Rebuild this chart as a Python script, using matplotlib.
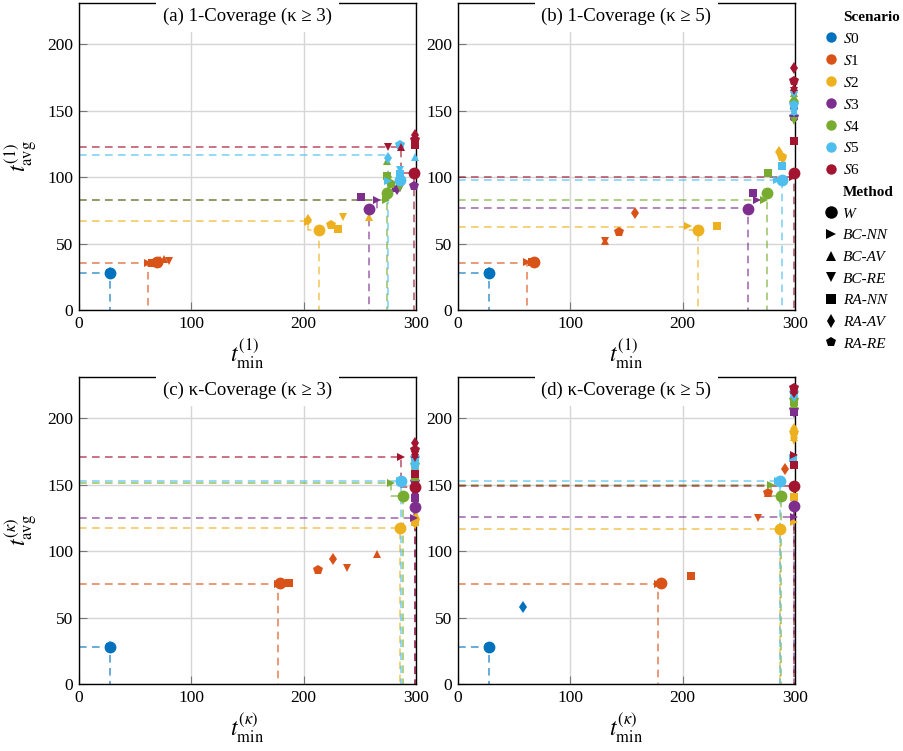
import matplotlib
matplotlib.use("Agg")
import matplotlib.pyplot as plt
from matplotlib.lines import Line2D

plt.rcParams['font.family'] = ['Liberation Serif', 'DejaVu Serif']
plt.rcParams['mathtext.fontset'] = 'stix'

scenarios = ['S0', 'S1', 'S2', 'S3', 'S4', 'S5', 'S6']
methods = ['W', 'BC-NN', 'BC-AV', 'BC-RE', 'RA-NN', 'RA-AV', 'RA-RE']
colors = ['#0072BD', '#D95319', '#EDB120', '#7E2F8E', '#77AC30', '#4DBEEE', '#A2142F']
markers = ['o', '>', '^', 'v', 's', 'd', 'p']
msizes = [8.5, 6.3, 6.3, 6.3, 5.5, 6.0, 7.2]

# t_min / t_avg per scenario (rows) and method (columns), one pair per panel
tmin_a = [[28, 28, 28, 28, 28, 28, 28],
          [69, 61, 76, 80, 65, 72, 67],
          [214, 204, 258, 235, 231, 204, 224],
          [258, 265, 280, 286, 251, 283, 298],
          [274, 273, 274, 286, 274, 275, 278],
          [286, 275, 299, 286, 286, 275, 286],
          [298, 299, 287, 275, 299, 299, 299]]
tavg_a = [[28, 28, 28, 28, 28, 28, 28],
          [36, 35, 38, 37, 35, 36, 35],
          [60, 66, 70, 70, 61, 68, 64],
          [76, 83, 92, 92, 85, 91, 93],
          [88, 83, 112, 92, 101, 100, 95],
          [98, 97, 115, 105, 102, 114, 124],
          [103, 127, 123, 123, 124, 132, 128]]

tmin_b = [[28, 28, 28, 28, 28, 28, 28],
          [68, 61, 131, 131, 66, 158, 143],
          [214, 205, 288, 289, 231, 286, 288],
          [258, 266, 299, 299, 263, 299, 299],
          [275, 272, 299, 299, 276, 299, 299],
          [288, 284, 299, 299, 288, 299, 299],
          [299, 298, 299, 299, 299, 299, 299]]
tavg_b = [[28, 28, 28, 28, 28, 28, 28],
          [36, 36, 52, 52, 36, 73, 59],
          [60, 63, 110, 112, 63, 119, 115],
          [76, 83, 146, 149, 88, 152, 145],
          [88, 83, 163, 142, 103, 158, 156],
          [98, 98, 150, 148, 108, 164, 154],
          [103, 100, 168, 165, 127, 182, 172]]

tmin_c = [[28, 28, 28, 28, 28, 28, 28],
          [179, 177, 265, 239, 187, 226, 213],
          [286, 299, 300, 299, 299, 299, 299],
          [299, 298, 299, 299, 299, 299, 299],
          [288, 278, 299, 299, 299, 299, 299],
          [287, 286, 299, 299, 299, 299, 299],
          [299, 287, 299, 299, 299, 299, 299]]
tavg_c = [[28, 28, 28, 28, 28, 28, 28],
          [76, 75, 98, 87, 76, 94, 86],
          [117.5, 124, 127, 120, 122, 121, 123],
          [133, 125, 145, 148, 140, 155, 152],
          [141.5, 151, 160, 158, 156, 162, 165],
          [153, 153, 166, 168, 166, 163, 170],
          [148, 171, 173, 170, 158, 181, 176]]

tmin_d = [[28, 28, 28, 28, 28, 58, 28],
          [181, 178, 276, 267, 207, 291, 276],
          [287, 299, 299, 299, 299, 299, 299],
          [299, 299, 299, 299, 299, 299, 299],
          [287.5, 279, 299, 299, 299, 299, 299],
          [287, 285, 299, 299, 298, 299, 299],
          [299, 299, 299, 299, 299, 299, 299]]
tavg_d = [[28, 28, 28, 28, 28, 58, 28],
          [76, 75, 144, 125, 81, 162, 144],
          [117, 122, 186, 183, 141, 192, 189],
          [134, 126, 210, 203, 205, 207, 206],
          [141.5, 150, 211, 213, 212, 215, 214],
          [153, 153, 218, 216, 170, 217, 219],
          [149, 172, 221, 219, 165, 220, 223]]

# dashed guides per scenario: (x, y) where the horizontal ends, (x, y) where the vertical ends
guide_a = [(28, 28, 28, 28), (61, 35.5, 61, 35.5), (204, 67, 214, 60), (265, 83, 258, 76),
           (273, 83, 274, 88), (275, 117, 275, 96), (287, 123, 298, 103)]
guide_b = [(28, 28, 28, 28), (61, 35.5, 61, 35.5), (205, 62.5, 214, 60), (258, 76.5, 258, 76.5),
           (272, 83, 275, 88), (284, 98, 288, 98), (299, 100, 299, 103)]
guide_c = [(28, 28, 28, 28), (177, 75, 177, 75), (286, 117.5, 286, 117.5), (298, 125, 299, 133),
           (278, 151, 288, 141.5), (286, 153, 287, 153), (287, 171, 299, 148)]
guide_d = [(28, 28, 28, 28), (178, 75, 178, 75), (287, 117, 287, 117), (299, 126, 299, 134),
           (279, 150, 287.5, 141.5), (285, 153, 287, 153), (299, 149, 299, 149)]

titles = ['(a) 1-Coverage (κ ≥ 3)', '(b) 1-Coverage (κ ≥ 5)',
          '(c) κ-Coverage (κ ≥ 3)', '(d) κ-Coverage (κ ≥ 5)']
xlabels = [r'$t_{\min}^{(1)}$', r'$t_{\min}^{(1)}$', r'$t_{\min}^{(\kappa)}$', r'$t_{\min}^{(\kappa)}$']
ylabels = [r'$t_{\mathrm{avg}}^{(1)}$', None, r'$t_{\mathrm{avg}}^{(\kappa)}$', None]

W, H = 904, 751
fig = plt.figure(figsize=(W / 100, H / 100), dpi=100)

# axes boxes in pixels: left, top, right, bottom
boxes = [(79, 3, 416, 310), (458, 3, 795, 310), (79, 377, 416, 684), (458, 377, 795, 684)]
panels = [(tmin_a, tavg_a, guide_a), (tmin_b, tavg_b, guide_b),
          (tmin_c, tavg_c, guide_c), (tmin_d, tavg_d, guide_d)]

for k, (l, t, r, b) in enumerate(boxes):
    ax = fig.add_axes([l / W, 1 - b / H, (r - l) / W, (b - t) / H])
    xs, ys, guides = panels[k]
    for s in range(len(scenarios)):
        hx, hy, vx, vy = guides[s]
        ax.plot([0, hx, hx, vx, vx], [hy, hy, vy, vy, 0], ls=(0, (5, 3.5)), lw=1.1,
                color=colors[s], alpha=0.75, zorder=2)
        for m in range(1, len(methods)):
            ax.plot(xs[s][m], ys[s][m], marker=markers[m], ms=msizes[m], color=colors[s],
                    mew=0, ls='none', zorder=3, clip_on=False)
        ax.plot(xs[s][0], ys[s][0], marker='o', ms=msizes[0], color=colors[s],
                mew=0, ls='none', zorder=4, clip_on=False)

    ax.set_xlim(0, 300)
    ax.set_ylim(0, 231)
    ax.set_xticks([0, 100, 200, 300])
    ax.set_yticks([0, 50, 100, 150, 200])
    ax.grid(True, color='#d6d6d6', lw=1)
    ax.set_axisbelow(True)
    ax.tick_params(direction='in', length=6, color='#777777', labelsize=12.5, pad=4)
    for sp in ax.spines.values():
        sp.set_linewidth(1)
    ax.text(0.5, 0.955, titles[k], transform=ax.transAxes, ha='center', va='center',
            fontsize=13.5, zorder=6,
            bbox=dict(fc='white', ec='none', pad=5))
    ax.set_xlabel(xlabels[k], fontsize=17, labelpad=4)
    if ylabels[k]:
        ax.set_ylabel(ylabels[k], fontsize=17, labelpad=6)

# legend: scenario colours, then method markers
handles = [Line2D([], [], ls='none')]
labels = ['Scenario']
for s, name in enumerate(scenarios):
    handles.append(Line2D([], [], ls='none', marker='o', ms=7.5, color=colors[s], mew=0))
    labels.append('$S$' + name[1:])
handles.append(Line2D([], [], ls='none'))
labels.append('Method')
for m, name in enumerate(methods):
    handles.append(Line2D([], [], ls='none', marker=markers[m], ms=9 if m == 0 else 7,
                          color='black', mew=0))
    labels.append(name)

leg = fig.legend(handles, labels, loc='upper left', bbox_to_anchor=(818 / W, 1 - 4 / H),
                 frameon=False, fontsize=11, handlelength=0.9, handletextpad=0.35,
                 labelspacing=0.52, borderaxespad=0)
for i, txt in enumerate(leg.get_texts()):
    if labels[i] in ('Scenario', 'Method'):
        txt.set_fontweight('bold')
    elif i > 8:
        txt.set_fontstyle('italic')

fig.savefig('out.png', dpi=100)
